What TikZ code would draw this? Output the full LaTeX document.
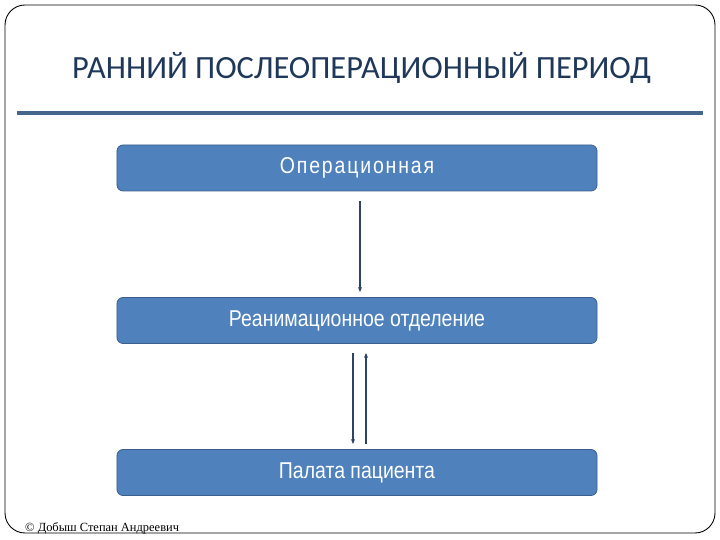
\documentclass[tikz,border=0pt]{standalone}
\usepackage{fontspec}
\usepackage{xcolor}
\usepackage{tikz}
\usetikzlibrary{arrows.meta, positioning, calc}
\newfontfamily\titlefont{Carlito}
\newfontfamily\boxfont{Liberation Sans}[FakeStretch=0.85]
\newfontfamily\footfont{Liberation Serif}
\definecolor{PeriodNavy}{RGB}{31, 56, 90}
\definecolor{PeriodRule}{RGB}{70, 101, 139}
\definecolor{PeriodBlue}{RGB}{79, 129, 189}
\definecolor{PeriodEdge}{RGB}{58, 95, 142}
\definecolor{PeriodArrow}{RGB}{44, 68, 104}
\tikzset{
  stage/.style={draw=PeriodEdge, fill=PeriodBlue, line width=0.8pt, rounded corners=6bp,
    minimum width=480bp, minimum height=46bp, inner sep=0pt, text=white,
    font=\boxfont\fontsize{23}{26}\selectfont},
  flow/.style={PeriodArrow, line width=1.3pt, -{Stealth[length=5bp, width=4bp]}}
}

\begin{document}
\begin{tikzpicture}[x=1bp,y=1bp]
  \path[use as bounding box] (0,0) rectangle (720,540);

  % slide frame
  \draw[black, line width=0.9pt, rounded corners=20bp] (5,7) rectangle (715,535);

  % title and rule
  \node[anchor=base, text=PeriodNavy] (title) at (361.5,461) {
    {\titlefont\fontsize{32.5}{36}\selectfont РАННИЙ ПОСЛЕОПЕРАЦИОННЫЙ ПЕРИОД}
  };
  \draw[PeriodRule, line width=4bp] (17,427) -- (703,427);

  % stages
  \node[stage] (op) at (357,372) {\addfontfeature{LetterSpace=8}Операционная};
  \node[stage] (reanim) at (357,219.5) {Реанимационное отделение};
  \node[stage] (ward) at (357,67.5) {Палата пациента};

  % transfers
  \draw[flow, shorten <=10bp, shorten >=5bp] ([xshift=3bp]op.south) -- ([xshift=3bp]reanim.north);
  \draw[flow, shorten <=9bp, shorten >=5bp] ([xshift=-4bp]reanim.south) -- ([xshift=-4bp]ward.north);
  \draw[flow, shorten <=5bp, shorten >=9bp] ([xshift=9bp]ward.north) -- ([xshift=9bp]reanim.south);

  % footer
  \node[anchor=base west, inner sep=0pt] (author) at (25,8) {
    {\footfont\fontsize{12.5}{14}\selectfont © Добыш Степан Андреевич}
  };
\end{tikzpicture}
\end{document}
